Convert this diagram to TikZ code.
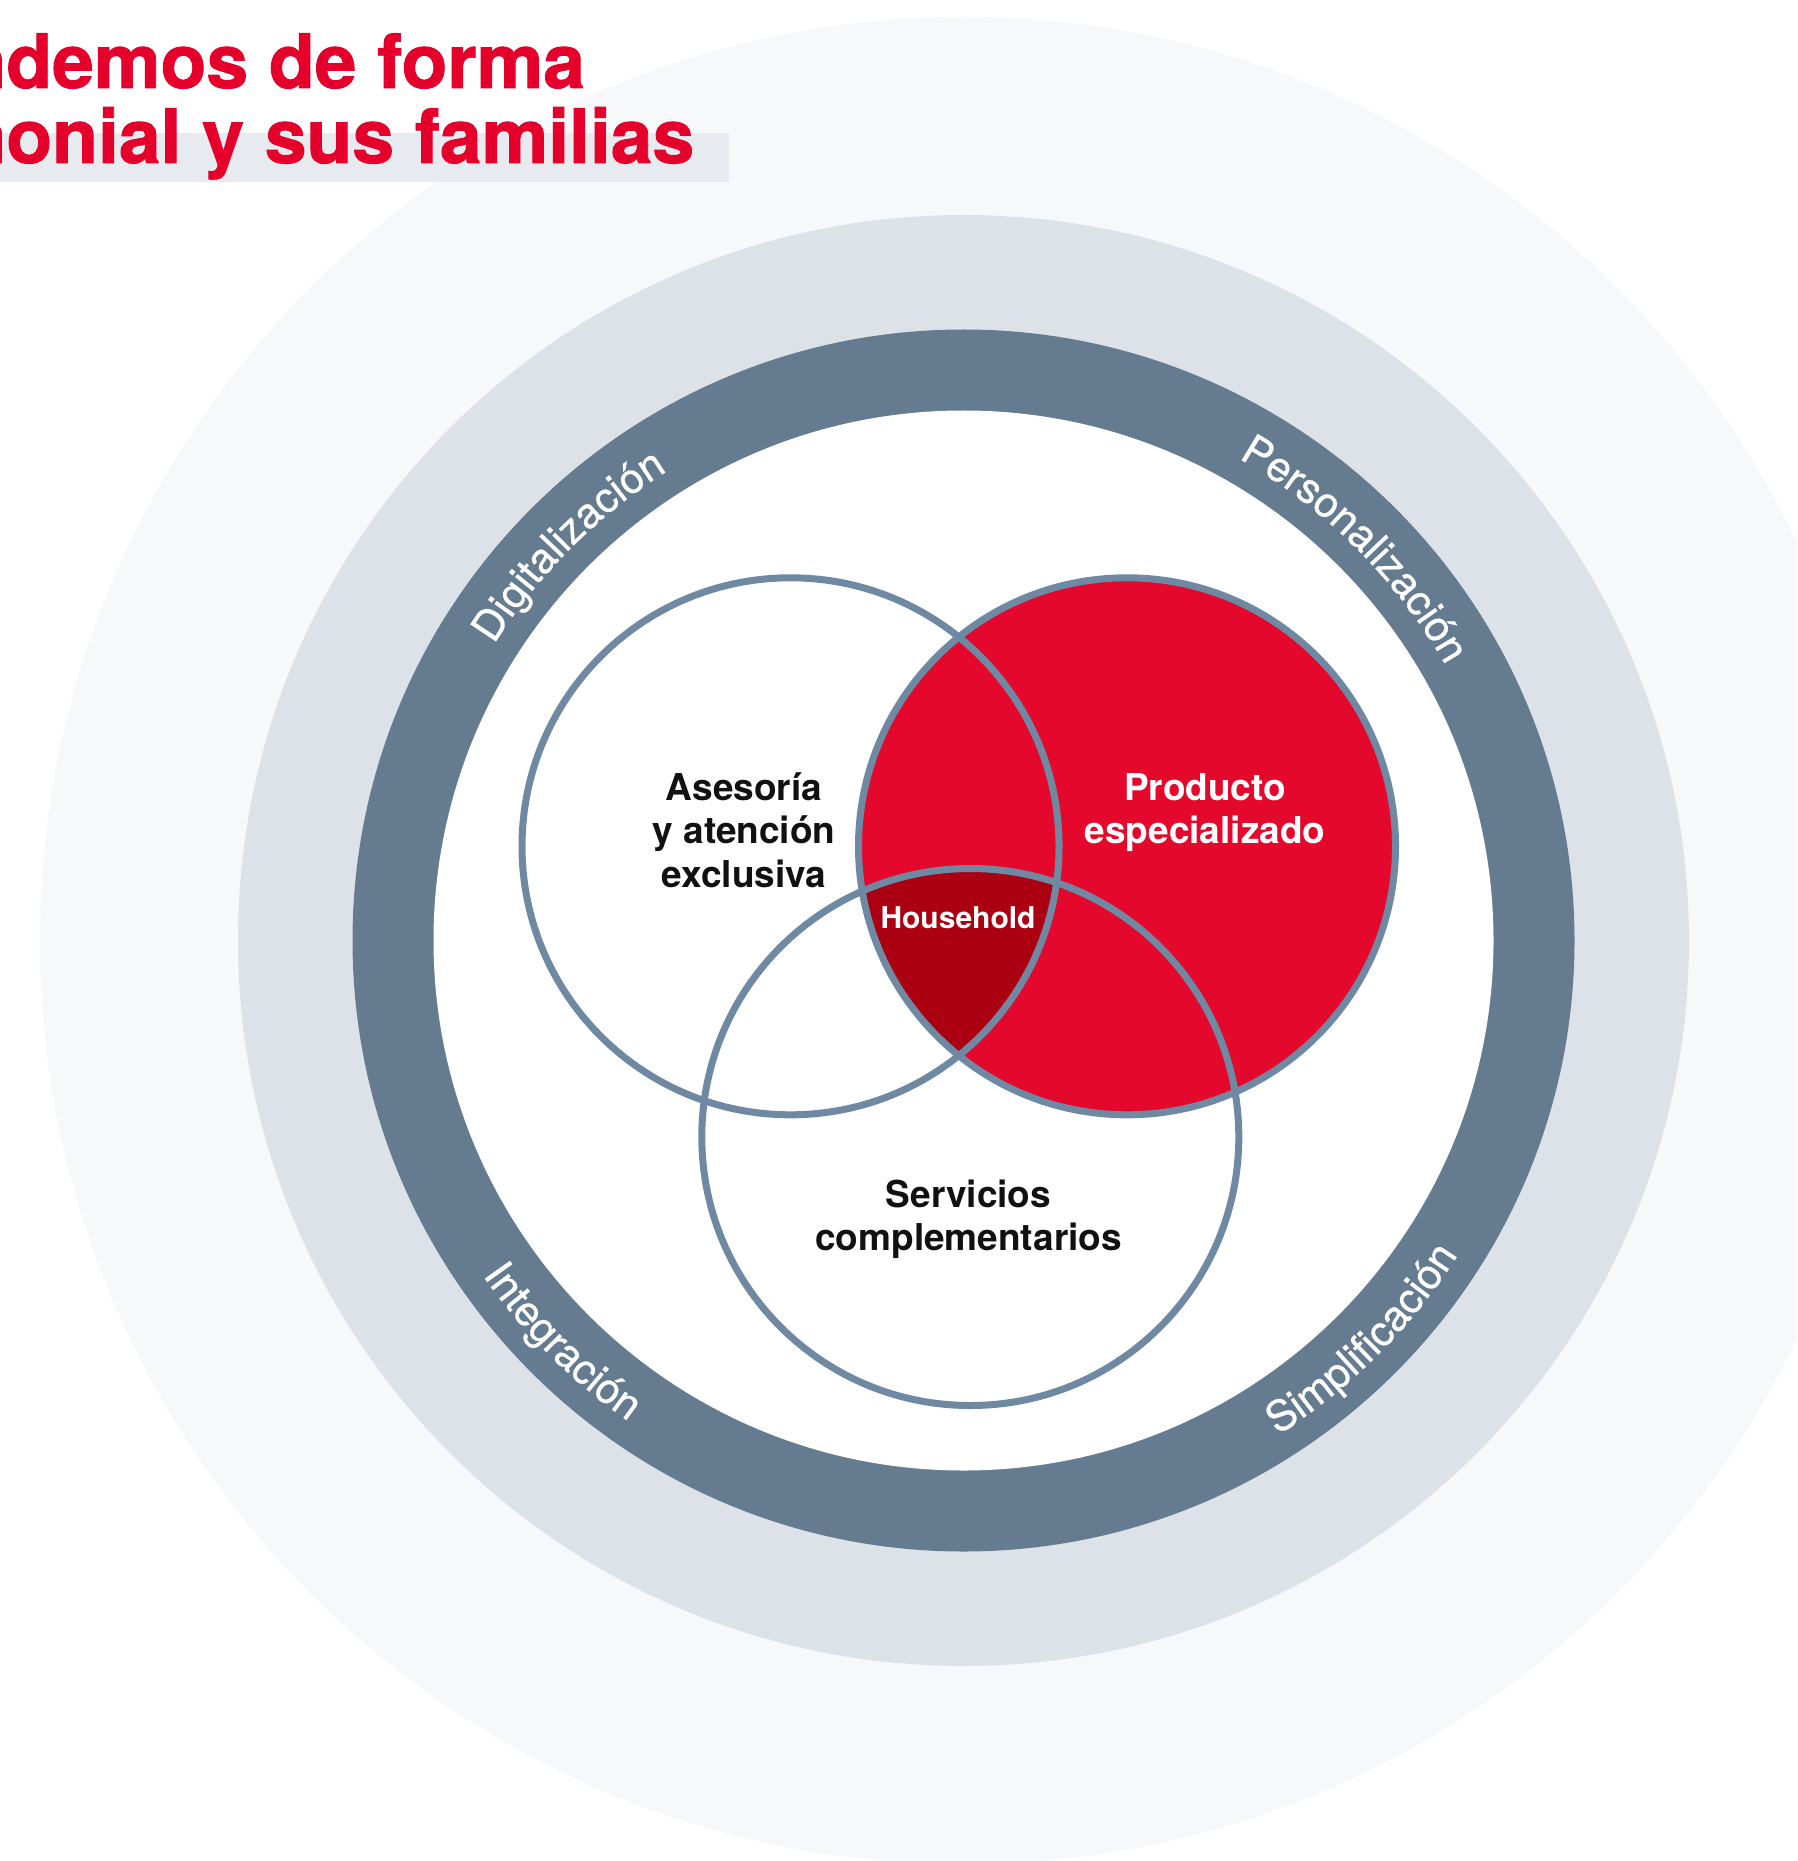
\documentclass[tikz,border=0pt]{standalone}
\usepackage{fontspec}
\setmainfont{TeX Gyre Heros}
\usetikzlibrary{decorations.text,calc}
\definecolor{bgpale}{HTML}{F7F8FA}
\definecolor{ringlight}{HTML}{DDE2E9}
\definecolor{ringdark}{HTML}{657C90}
\definecolor{vennline}{HTML}{6F89A2}
\definecolor{brandred}{HTML}{E4082D}
\definecolor{deepred}{HTML}{AB0012}
\definecolor{titlered}{HTML}{E4002B}
\definecolor{titlebar}{HTML}{E7EAEE}
\definecolor{labelink}{HTML}{111111}
\newcommand\ringfont{\fontsize{21}{25}\selectfont\addfontfeature{FakeBold=0.6}\color{white}}
\begin{document}
\begin{tikzpicture}[x=0.5pt,y=0.5pt,
  vennlabel/.style={font=\bfseries\fontsize{18.5}{22}\selectfont, text=labelink, inner sep=0pt, anchor=base},
  vennlabelw/.style={vennlabel, text=white},
  titletext/.style={font=\bfseries\fontsize{37.5}{44}\selectfont\addfontfeature{FakeBold=1.2}, text=titlered, inner sep=0pt, anchor=base west},
  vennring/.style={vennline, line width=3.5pt},
  ringlabel/.style={decorate, decoration={text along path, text align=center, text={|\ringfont|#1}}}]
\useasboundingbox (0,0) rectangle (1797,-1861);
\fill[white] (0,0) rectangle (1797,-1861);
\coordinate (C) at (963.5,-940.5);
\begin{scope}
  \clip (0,0) rectangle (1797,-1861);
  \fill[bgpale] (C) circle[radius=923.5];
\end{scope}
\fill[ringlight] (C) circle[radius=725.5];
\fill[ringdark] (C) circle[radius=611];
\fill[white] (C) circle[radius=530];
% Venn
\coordinate (L) at (790.5,-846.3);
\coordinate (R) at (1127,-846.3);
\coordinate (B) at (970.3,-1137);
\def\vr{268.5}
\fill[brandred] (R) circle[radius=\vr];
\begin{scope}
  \clip (L) circle[radius=\vr];
  \clip (B) circle[radius=\vr];
  \fill[deepred] (R) circle[radius=\vr];
\end{scope}
\draw[vennring] (L) circle[radius=\vr] (R) circle[radius=\vr] (B) circle[radius=\vr];
% Venn labels
\node[vennlabel] (as1) at (744,-800) {Asesoría};
\node[vennlabel] (as2) at (744,-843.5) {y atención};
\node[vennlabel] (as3) at (744,-887) {exclusiva};
\node[vennlabelw] (pr1) at (1205,-800) {Producto};
\node[vennlabelw] (pr2) at (1205,-843.5) {especializado};
\node[vennlabel] (se1) at (968.5,-1207) {Servicios};
\node[vennlabel] (se2) at (968.5,-1250.5) {complementarios};
\node[font=\bfseries\fontsize{15}{18}\selectfont, text=white, inner sep=0pt, anchor=base] (hh) at (958,-928) {Household};
% ring labels
\path[ringlabel={Digitalización}] ($(C)+(160:555)$) arc[start angle=160, end angle=110, radius=555];
\path[ringlabel={Personalización}] ($(C)+(70:555)$) arc[start angle=70, end angle=20, radius=555];
\path[ringlabel={Integración}] ($(C)+(200:586)$) arc[start angle=200, end angle=250, radius=586];
\path[ringlabel={Simplificación}] ($(C)+(290:586)$) arc[start angle=290, end angle=340, radius=586];
% title
\fill[titlebar] (0,-133) rectangle (729,-182);
\node[titletext] (t1) at (6,-88) {\llap{n}demos de forma};
\node[titletext] (t2) at (6,-163) {\llap{m}onial y sus familias};
\end{tikzpicture}
\end{document}
